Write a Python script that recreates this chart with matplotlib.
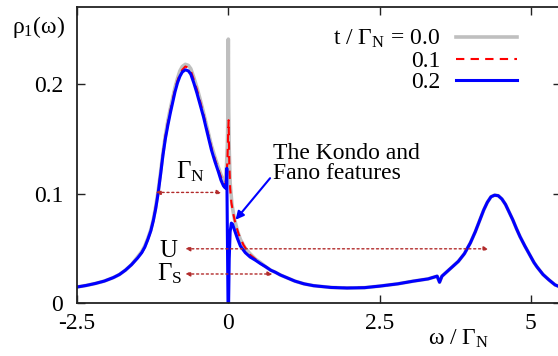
import matplotlib
matplotlib.use("Agg")
import matplotlib.pyplot as plt

plt.rcParams["font.family"] = "serif"
plt.rcParams["font.serif"] = ["Liberation Serif", "DejaVu Serif"]
plt.rcParams["mathtext.fontset"] = "custom"
plt.rcParams["mathtext.rm"] = "Liberation Serif"
plt.rcParams["mathtext.it"] = "Liberation Serif:italic"

# spectral function rho_1(omega)
# left part (Hubbard peak below the Fermi level)
omega_left = [-2.5, -2.35, -2.2, -2.05, -1.9, -1.8, -1.7, -1.6, -1.5, -1.43, -1.38,
              -1.33, -1.28, -1.24, -1.2, -1.16, -1.12, -1.08, -1.04, -1.0, -0.96,
              -0.92, -0.88, -0.84, -0.8, -0.76, -0.71, -0.66, -0.62, -0.57, -0.52,
              -0.47, -0.41, -0.35, -0.28, -0.22, -0.165, -0.12, -0.08]
rho_left_t00 = [0.0146, 0.016, 0.0178, 0.020, 0.0232, 0.026, 0.030, 0.035, 0.042, 0.047,
                0.052, 0.059, 0.067, 0.076, 0.088, 0.102, 0.119, 0.137, 0.153, 0.166,
                0.177, 0.187, 0.197, 0.205, 0.212, 0.216, 0.218, 0.217, 0.214, 0.206,
                0.197, 0.187, 0.174, 0.160, 0.144, 0.133, 0.124, 0.117, 0.112]
rho_left_t01 = [0.0146, 0.016, 0.0178, 0.020, 0.0232, 0.026, 0.030, 0.035, 0.041, 0.046,
                0.051, 0.058, 0.066, 0.075, 0.087, 0.101, 0.118, 0.136, 0.152, 0.164,
                0.175, 0.185, 0.195, 0.203, 0.209, 0.213, 0.216, 0.215, 0.212, 0.204,
                0.195, 0.185, 0.172, 0.158, 0.142, 0.131, 0.122, 0.115, 0.110]
rho_left_t02 = [0.0146, 0.016, 0.0178, 0.020, 0.0232, 0.026, 0.030, 0.035, 0.041, 0.046,
                0.051, 0.058, 0.066, 0.075, 0.086, 0.100, 0.117, 0.135, 0.150, 0.162,
                0.173, 0.183, 0.193, 0.201, 0.207, 0.211, 0.213, 0.212, 0.209, 0.201,
                0.192, 0.182, 0.170, 0.156, 0.140, 0.129, 0.120, 0.112, 0.107]

# around the Fermi level (Kondo / Fano region)
omega_mid_t00 = [-0.05, -0.03, -0.015, -0.005, 0.0, 0.005, 0.015, 0.03, 0.06, 0.1,
                 0.15, 0.2, 0.28, 0.36, 0.45, 0.53, 0.62, 0.7, 0.78]
rho_mid_t00 = [0.112, 0.125, 0.145, 0.18, 0.241, 0.18, 0.14, 0.11, 0.09, 0.077,
               0.066, 0.058, 0.050, 0.045, 0.040, 0.037, 0.033, 0.030, 0.028]
omega_mid_t01 = [-0.05, -0.03, -0.015, -0.005, 0.005, 0.015, 0.03, 0.05, 0.08, 0.12,
                 0.17, 0.25, 0.36, 0.45, 0.53, 0.62, 0.7, 0.78]
rho_mid_t01 = [0.108, 0.116, 0.13, 0.15, 0.167, 0.13, 0.105, 0.092, 0.082, 0.072,
               0.063, 0.053, 0.044, 0.040, 0.036, 0.033, 0.030, 0.028]
omega_mid_t02 = [-0.05, -0.035, -0.025, -0.015, -0.005, 0.005, 0.015, 0.03, 0.05, 0.07,
                 0.1, 0.15, 0.2, 0.28, 0.36, 0.45, 0.53, 0.62, 0.7, 0.78]
rho_mid_t02 = [0.105, 0.108, 0.123, 0.06, 0.0, 0.0, 0.04, 0.065, 0.073, 0.072,
               0.067, 0.059, 0.052, 0.046, 0.042, 0.039, 0.036, 0.033, 0.030, 0.028]

# right part (same for all t)
omega_tail = [0.86, 1.1, 1.25, 1.41, 1.7, 1.96, 2.25, 2.51, 2.8, 3.06, 3.3, 3.45, 3.49,
              3.53, 3.6, 3.7, 3.8, 3.9, 4.0, 4.08, 4.15, 4.22, 4.28, 4.34, 4.4, 4.46,
              4.52, 4.58, 4.64, 4.7, 4.76, 4.82, 4.9, 4.98, 5.05, 5.1, 5.2, 5.3, 5.4, 5.5]
rho_tail = [0.0256, 0.020, 0.0175, 0.0158, 0.0142, 0.0137, 0.014, 0.0155, 0.0175, 0.020,
            0.022, 0.0245, 0.019, 0.0245, 0.028, 0.033, 0.038, 0.045, 0.055, 0.065,
            0.075, 0.085, 0.092, 0.097, 0.0985, 0.098, 0.095, 0.090, 0.083, 0.076,
            0.068, 0.0606, 0.052, 0.044, 0.037, 0.033, 0.026, 0.021, 0.0165, 0.0143]

series = [
    ("t / $\\Gamma_{\\mathrm{N}}$ = 0.0", omega_left + omega_mid_t00 + omega_tail,
     rho_left_t00 + rho_mid_t00 + rho_tail, dict(color="#bfbfbf", lw=2.6, ls="-")),
    ("0.1", omega_left + omega_mid_t01 + omega_tail,
     rho_left_t01 + rho_mid_t01 + rho_tail, dict(color="#ff0000", lw=1.5, ls=(0, (4, 3)))),
    ("0.2", omega_left + omega_mid_t02 + omega_tail,
     rho_left_t02 + rho_mid_t02 + rho_tail, dict(color="#0000ff", lw=2.2, ls="-")),
]

fig = plt.figure(figsize=(5.58, 3.56), dpi=100)
ax = fig.add_axes([77 / 558, 1 - 303 / 356, 484.2 / 558, 295.6 / 356])

handles = []
for label, x, y, style in series:
    h, = ax.plot(x, y, label=label, **style)
    handles.append(h)

ax.set_xlim(-2.5, 5.5)
ax.set_ylim(0, 0.27)
ax.set_xticks([-2.5, 0, 2.5, 5])
ax.set_xticklabels(["-2.5", "0", "2.5", "5"], fontfamily="Liberation Serif")
ax.set_yticks([0, 0.1, 0.2])
ax.set_yticklabels(["0", "0.1", "0.2"], fontfamily="Liberation Serif")
ax.tick_params(direction="in", length=6, width=1, top=True, right=True,
               labelsize=17, color="#222222")
ax.tick_params(axis="x", pad=7)
ax.tick_params(axis="y", pad=10)
for s in ax.spines.values():
    s.set_linewidth(1.3)
    s.set_color("#222222")

leg = ax.legend(handles=handles, loc="upper right", frameon=False,
                prop=dict(family="Liberation Serif", size=17),
                markerfirst=False, handlelength=2.6, handletextpad=0.65,
                labelspacing=0.0, borderpad=0, borderaxespad=0,
                bbox_to_anchor=(517 / 558, 1 - 28 / 356), bbox_transform=fig.transFigure)

# width arrows
arrow_col = "#b22a2a"
arrows = [(-1.2, -0.11, 0.101), (-0.71, 4.3, 0.0495), (-0.71, 0.73, 0.0265)]
for x0, x1, yy in arrows:
    ax.annotate("", xy=(x1, yy), xytext=(x0, yy),
                arrowprops=dict(arrowstyle="<|-|>", color=arrow_col, lw=1.0,
                                ls=(0, (1.5, 2)), mutation_scale=7,
                                shrinkA=0, shrinkB=0))
ax.text(-0.86, 0.114, "$\\Gamma_{\\mathrm{N}}$", fontsize=18, va="baseline", ha="left")
ax.text(-1.14, 0.042, "U", fontsize=18, va="baseline", ha="left")
ax.text(-1.17, 0.021, "$\\Gamma_{\\mathrm{S}}$", fontsize=18, va="baseline", ha="left")

ax.text(0.74, 0.146, "The Kondo and\nFano features", fontsize=17, va="top", ha="left",
        linespacing=0.95)
ax.annotate("", xy=(0.12, 0.076), xytext=(0.69, 0.114),
            arrowprops=dict(arrowstyle="-|>", color="#0000ff", lw=1.5,
                            mutation_scale=12, shrinkA=0, shrinkB=0))

fig.text(65 / 558, 1 - 33 / 356, "ρ$_{\\mathrm{1}}$(ω)", fontsize=17,
         ha="right", va="baseline")
fig.text(428 / 558, 1 - 345 / 356, "ω / $\\Gamma_{\\mathrm{N}}$", fontsize=17,
         ha="left", va="baseline")

fig.savefig("out.png", dpi=100)
